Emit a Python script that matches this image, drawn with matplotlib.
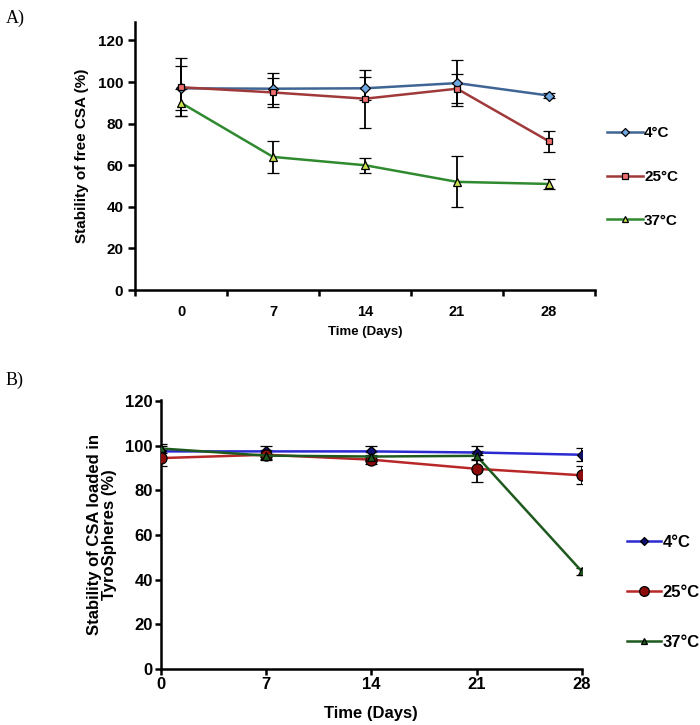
"""Stability of free CSA vs CSA loaded in TyroSpheres, two panels."""

import matplotlib

matplotlib.use("Agg")

import matplotlib.pyplot as plt
from matplotlib.lines import Line2D

plt.rcParams["font.family"] = ["Liberation Sans", "DejaVu Sans"]
plt.rcParams["font.weight"] = "bold"

DAYS = [0, 7, 14, 21, 28]
LABELS = ["4°C", "25°C", "37°C"]

# panel A: free CSA
A_4 = [97, 96.8, 97, 99.5, 93.5]
A_25 = [97.5, 95, 92, 96.8, 71.5]
A_37 = [90, 64, 60, 52, 51]
A_4_ERR = [10.5, 7.5, 5.5, 11, 1]
A_25_ERR = [14, 7, 14, 7, 5]
A_37_ERR = [6.5, 7.8, 3.5, 12.2, 2.5]

# panel B: CSA loaded in TyroSpheres
B_4 = [97.5, 97.5, 97.5, 97, 96]
B_25 = [94.5, 96, 93.8, 89.7, 86.8]
B_37 = [98.8, 95.6, 95.2, 95.5, 43.8]
B_4_ERR = [2.5, 2.5, 2.5, 3, 3]
B_25_ERR = [3.5, 2, 2, 6, 4]
B_37_ERR = [2, 2, 2, 2, 1.5]

STYLE_A = [
    dict(color="#3f6594", marker="D", mfc="#6fa8e0", ms=5),
    dict(color="#a03a3a", marker="s", mfc="#f07070", ms=5),
    dict(color="#2f8a2f", marker="^", mfc="#c8e050", ms=6),
]
STYLE_B = [
    dict(color="#2a2ad0", marker="D", mfc="#101070", ms=5),
    dict(color="#b82828", marker="o", mfc="#8c0c0c", ms=8),
    dict(color="#1e5a1e", marker="^", mfc="#1e5a1e", ms=6),
]


def _draw(ax, x, series, errs, styles):
    for y, e, st in zip(series, errs, styles):
        ax.errorbar(x, y, yerr=e, color=st["color"], lw=1.8, marker=st["marker"],
                    mfc=st["mfc"], mec="black", mew=0.9, ms=st["ms"],
                    ecolor="black", elinewidth=1.3, capsize=4, capthick=1.3, zorder=3)


def _legend(fig, styles, anchor, fontsize, spacing, hlen):
    handles = [Line2D([], [], color=st["color"], lw=1.8, marker=st["marker"],
                      mfc=st["mfc"], mec="black", mew=0.9, ms=st["ms"] - 1)
               for st in styles]
    fig.legend(handles, LABELS, loc="upper left", bbox_to_anchor=anchor, frameon=False,
               fontsize=fontsize, labelspacing=spacing, handlelength=hlen,
               handletextpad=0.1, borderaxespad=0)


fig = plt.figure(figsize=(7, 7.25), dpi=100)

# ---- panel A (categorical x axis, Excel style)
axA = fig.add_axes([0.193, 0.6, 0.657, 0.37])
xa = list(range(len(DAYS)))
_draw(axA, xa, [A_4, A_25, A_37], [A_4_ERR, A_25_ERR, A_37_ERR], STYLE_A)
axA.set_xlim(-0.5, len(DAYS) - 0.5)
axA.set_ylim(0, 129)
axA.set_yticks(range(0, 121, 20))
axA.set_xticks([i - 0.5 for i in range(len(DAYS) + 1)])
axA.set_xticklabels([])
axA.set_xticks(xa, [str(d) for d in DAYS], minor=True)
axA.tick_params(axis="x", which="minor", length=0, pad=11, labelsize=10.5)
axA.tick_params(axis="x", which="major", direction="out", length=4, width=1.8)
axA.tick_params(axis="y", direction="out", length=5, width=1.8, labelsize=11)
axA.set_ylabel("Stability of free CSA (%)", fontsize=11, fontweight="bold", labelpad=6)
axA.set_xlabel("Time (Days)", fontsize=9.5, fontweight="bold", labelpad=5)
for side in ("top", "right"):
    axA.spines[side].set_visible(False)
for side in ("left", "bottom"):
    axA.spines[side].set_linewidth(1.8)
_legend(fig, STYLE_A, (0.859, 0.834), 11, 1.94, 2.3)

# ---- panel B (numeric x axis)
axB = fig.add_axes([0.23, 0.0772, 0.601, 0.371])
_draw(axB, DAYS, [B_4, B_25, B_37], [B_4_ERR, B_25_ERR, B_37_ERR], STYLE_B)
axB.set_xlim(0, 28)
axB.set_ylim(0, 120.5)
axB.set_xticks(DAYS)
axB.set_yticks(range(0, 121, 20))
axB.tick_params(direction="out", length=4, width=1.8, labelsize=12, pad=2)
axB.set_ylabel("Stability of CSA loaded in\nTyroSpheres (%)", fontsize=12,
               fontweight="bold", labelpad=6, linespacing=1.0)
axB.set_xlabel("Time (Days)", fontsize=12, fontweight="bold", labelpad=10)
for side in ("top", "right"):
    axB.spines[side].set_visible(False)
for side in ("left", "bottom"):
    axB.spines[side].set_linewidth(1.8)
_legend(fig, STYLE_B, (0.886, 0.271), 12, 2.08, 2.05)

fig.text(0.008, 0.975, "A)", fontsize=13, family="Liberation Serif",
         fontweight="normal", va="center")
fig.text(0.008, 0.476, "B)", fontsize=13, family="Liberation Serif",
         fontweight="normal", va="center")

fig.savefig("out.png", dpi=100)
